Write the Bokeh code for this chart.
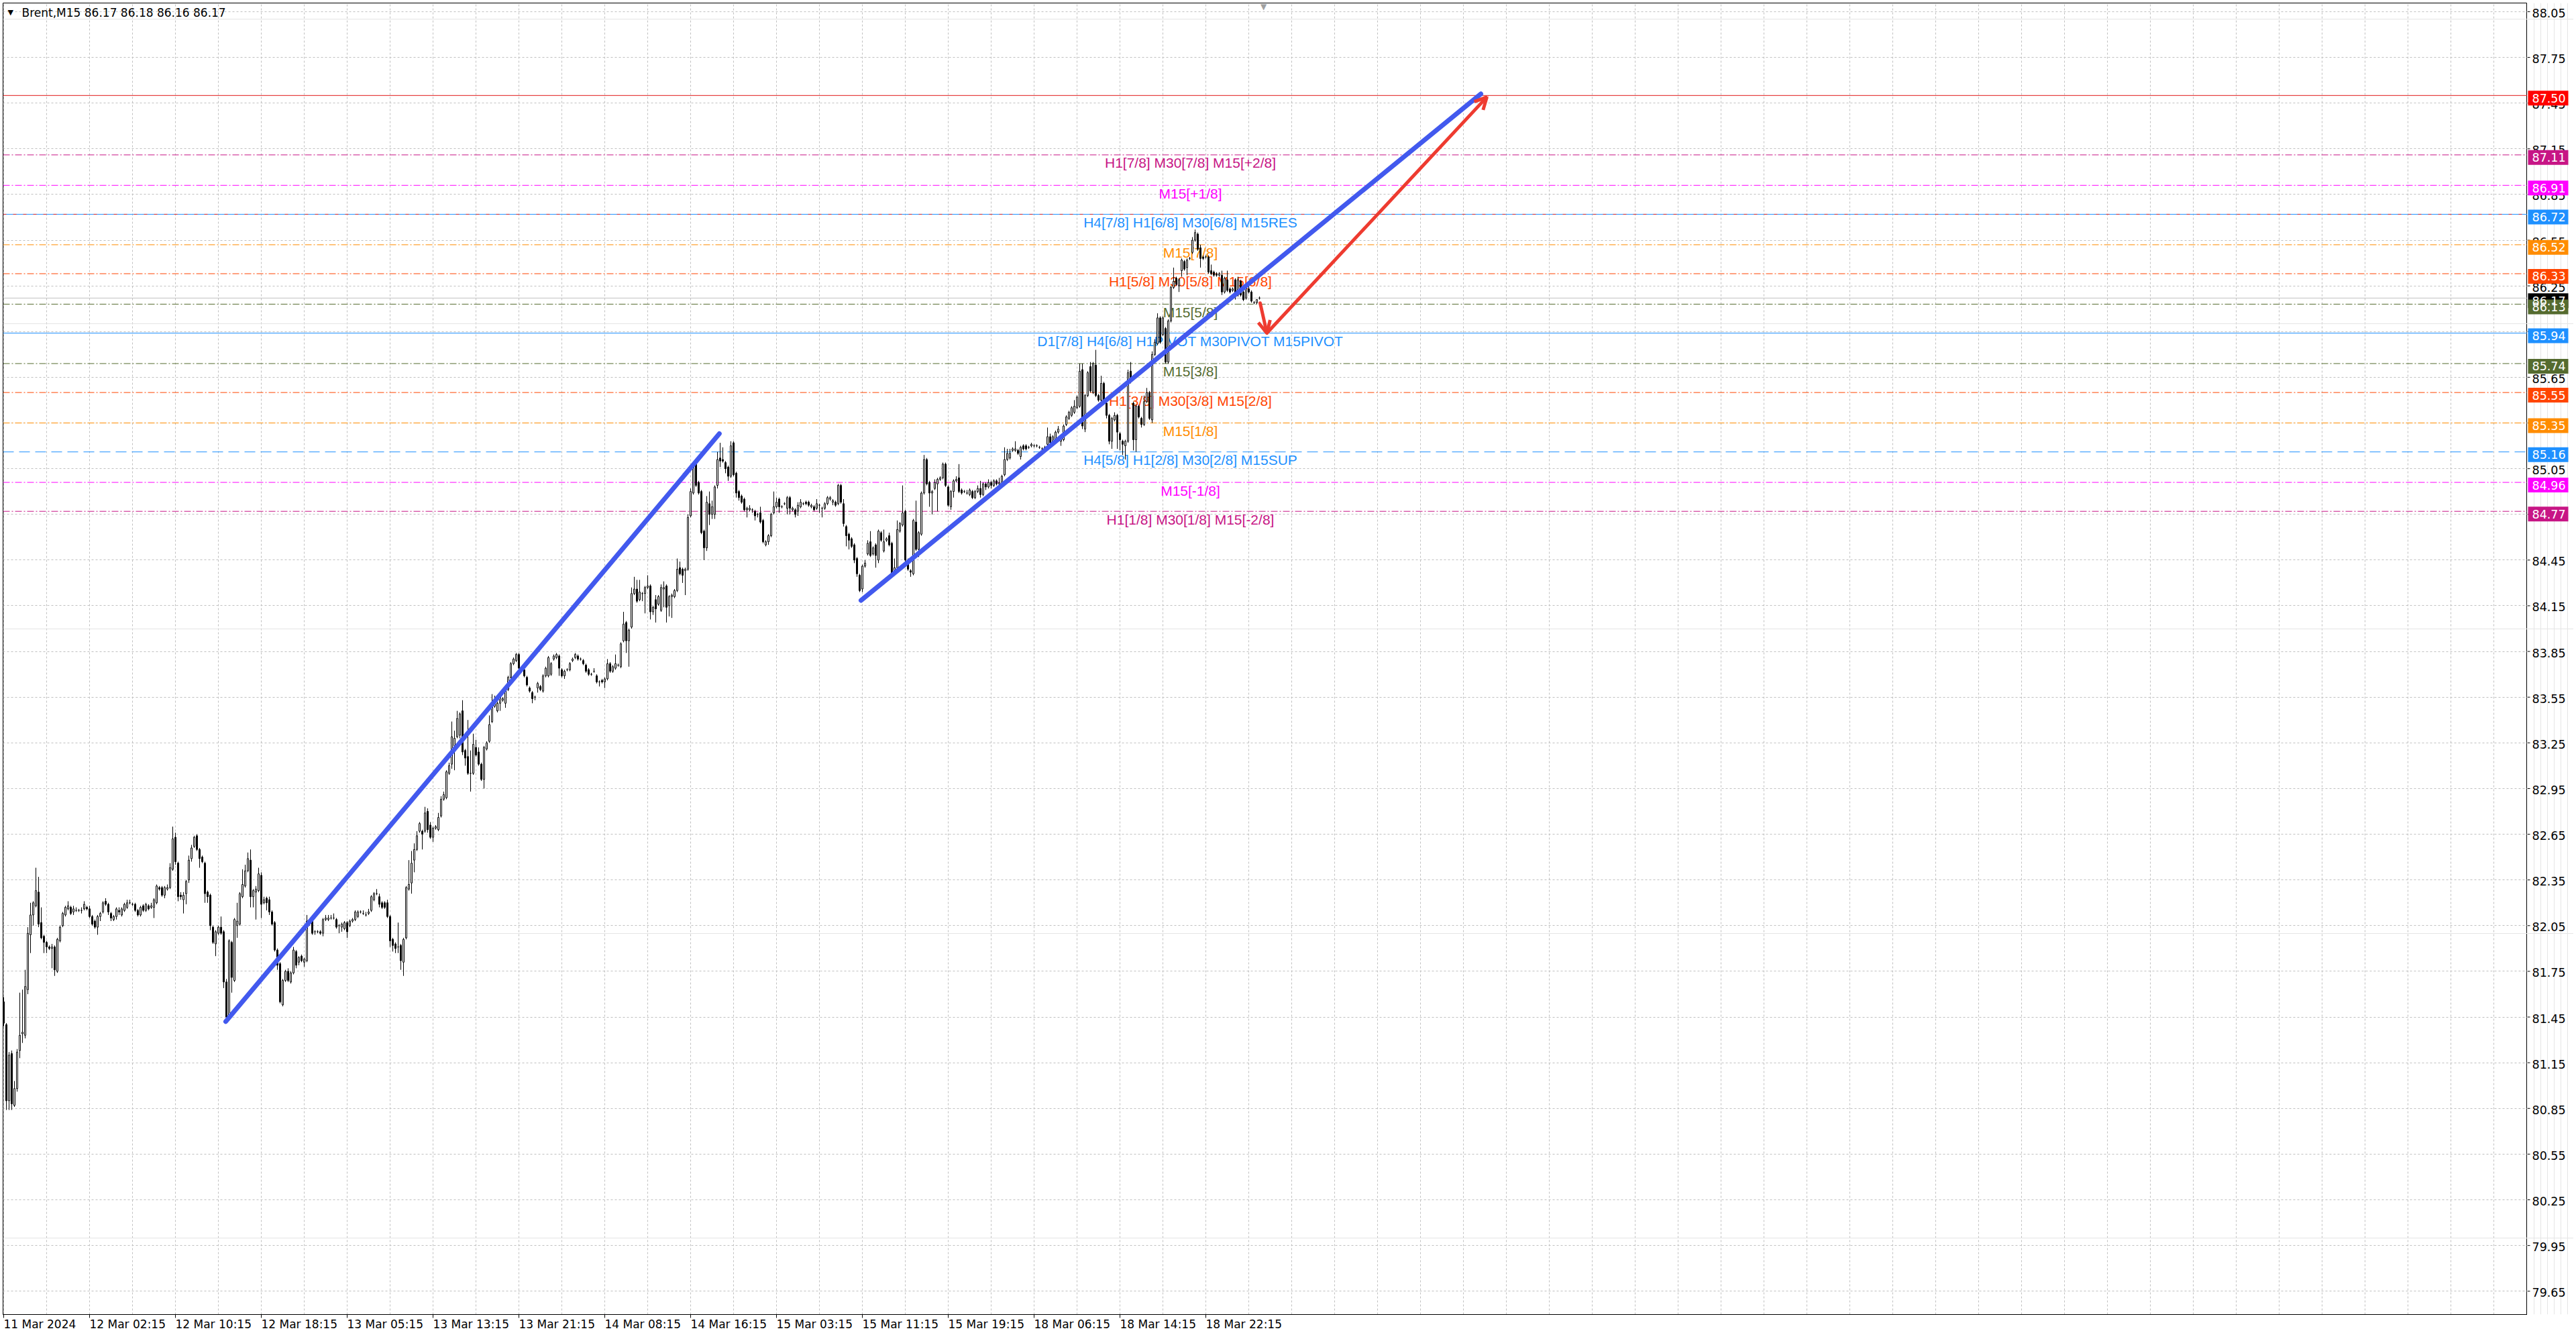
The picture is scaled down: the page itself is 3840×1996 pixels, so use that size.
from bokeh.plotting import figure
from bokeh.layouts import row
from bokeh.models import (Range1d, FixedTicker, Label, Arrow, OpenHead, Grid,
                          Span, ColumnDataSource)
from bokeh.core.properties import value
from bokeh.embed import file_html
from bokeh.resources import INLINE

# ---------------- data (Brent, M15) ----------------
opens = [
81.55,81.40,80.90,81.21,80.87,80.98,81.23,81.34,81.33,81.63,
81.99,82.12,82.18,82.27,82.07,81.98,81.94,81.91,81.90,81.91,
81.75,81.95,82.05,82.12,82.16,82.17,82.14,82.15,82.15,82.15,
82.16,82.17,82.16,82.11,82.08,82.04,82.11,82.14,82.21,82.19,
82.13,82.09,82.11,82.15,82.12,82.15,82.17,82.20,82.19,82.19,
82.15,82.12,82.18,82.15,82.18,82.17,82.17,82.20,82.30,82.30,
82.25,82.29,82.30,82.42,82.63,82.46,82.25,82.22,82.26,82.35,
82.49,82.57,82.64,82.55,82.50,82.46,82.27,82.25,82.04,81.93,
82.00,82.04,82.01,81.68,81.46,81.94,81.69,82.05,82.06,82.24,
82.31,82.41,82.48,82.24,82.27,82.28,82.38,82.20,82.23,82.22,
82.14,82.07,81.89,81.80,81.53,81.69,81.75,81.68,81.74,81.88,
81.81,81.85,81.81,81.82,82.06,82.08,82.01,82.01,82.01,82.00,
82.09,82.09,82.10,82.10,82.09,82.05,82.04,82.03,82.07,82.05,
82.08,82.09,82.11,82.14,82.13,82.12,82.13,82.15,82.22,82.26,
82.24,82.20,82.20,82.20,82.11,81.96,81.93,81.91,81.92,81.81,
81.97,82.29,82.33,82.48,82.55,82.67,82.67,82.67,82.80,82.71,
82.63,82.69,82.68,82.77,82.88,82.89,83.05,83.11,83.23,83.29,
83.30,83.46,83.20,83.16,83.05,83.05,83.22,83.19,83.11,83.01,
83.21,83.26,83.39,83.49,83.46,83.51,83.53,83.51,83.60,83.68,
83.77,83.79,83.83,83.74,83.73,83.68,83.61,83.58,83.55,83.61,
83.62,83.59,83.69,83.69,83.70,83.80,83.81,83.82,83.73,83.69,
83.73,83.73,83.79,83.81,83.82,83.80,83.79,83.76,83.73,83.70,
83.72,83.69,83.65,83.66,83.65,83.67,83.77,83.72,83.74,83.76,
83.75,83.92,84.04,83.92,84.01,84.23,84.26,84.19,84.23,84.23,
84.27,84.28,84.11,84.19,84.16,84.12,84.26,84.28,84.15,84.21,
84.21,84.25,84.40,84.39,84.38,84.39,84.74,84.89,85.08,84.96,
84.90,84.64,84.53,84.82,84.75,84.75,84.94,85.12,85.11,85.09,
85.06,85.00,85.22,85.02,84.90,84.87,84.85,84.78,84.78,84.78,
84.77,84.75,84.76,84.71,84.55,84.57,84.61,84.76,84.80,84.85,
84.80,84.82,84.79,84.86,84.78,84.78,84.77,84.80,84.82,84.83,
84.83,84.80,84.80,84.79,84.81,84.79,84.79,84.82,84.85,84.83,
84.83,84.82,84.94,84.82,84.67,84.62,84.59,84.55,84.46,84.35,
84.26,84.41,84.49,84.57,84.49,84.55,84.45,84.63,84.51,84.58,
84.61,84.56,84.37,84.40,84.64,84.68,84.77,84.45,84.38,84.36,
84.70,84.52,84.62,84.89,85.11,84.96,84.89,84.92,84.95,84.98,
84.99,85.08,84.93,84.80,84.90,84.97,84.99,84.91,84.90,84.89,
84.88,84.90,84.86,84.90,84.92,84.88,84.95,84.93,84.96,84.94,
84.97,84.95,84.96,85.01,85.11,85.12,85.17,85.17,85.17,85.13,
85.20,85.20,85.19,85.20,85.20,85.20,85.19,85.18,85.18,85.21,
85.26,85.23,85.24,85.29,85.23,85.24,85.34,85.38,85.40,85.42,
85.45,85.46,85.70,85.31,85.53,85.72,85.55,85.73,85.53,85.50,
85.61,85.48,85.40,85.23,85.37,85.40,85.28,85.23,85.20,85.23,
85.69,85.48,85.24,85.46,85.38,85.34,85.49,85.55,85.37,85.80,
85.87,86.04,85.93,85.97,85.75,86.02,86.24,86.30,86.25,86.35,
86.41,86.37,86.43,86.47,86.55,86.59,86.50,86.44,86.44,86.44,
86.35,86.34,86.33,86.32,86.32,86.21,86.29,86.23,86.22,86.29,
86.19,86.28,86.21,86.17,86.23,86.21,86.14,86.14,86.17]

highs = [
81.58,81.41,81.22,81.23,81.03,81.24,81.61,81.63,81.76,82.04,
82.20,82.21,82.43,82.37,82.17,81.99,81.95,81.92,81.93,81.92,
81.97,82.05,82.14,82.18,82.21,82.18,82.18,82.17,82.16,82.17,
82.21,82.18,82.18,82.12,82.09,82.12,82.14,82.21,82.23,82.20,
82.14,82.12,82.17,82.17,82.17,82.20,82.22,82.22,82.20,82.20,
82.16,82.18,82.19,82.20,82.19,82.20,82.23,82.32,82.31,82.31,
82.31,82.32,82.46,82.70,82.66,82.47,82.27,82.27,82.35,82.51,
82.58,82.64,82.65,82.56,82.51,82.47,82.28,82.26,82.05,82.02,
82.05,82.11,82.02,81.70,81.96,81.95,82.10,82.20,82.27,82.42,
82.45,82.53,82.55,82.29,82.31,82.43,82.40,82.24,82.24,82.24,
82.15,82.08,81.90,81.81,81.70,81.76,81.77,81.75,81.91,81.89,
81.85,81.86,81.84,82.12,82.09,82.09,82.02,82.02,82.02,82.10,
82.12,82.12,82.12,82.13,82.10,82.06,82.07,82.08,82.08,82.09,
82.10,82.15,82.15,82.15,82.15,82.14,82.16,82.25,82.27,82.29,
82.26,82.21,82.21,82.22,82.12,81.97,81.94,82.07,81.93,81.97,
82.31,82.48,82.54,82.59,82.67,82.73,82.68,82.83,82.82,82.73,
82.70,82.71,82.79,82.90,82.93,83.07,83.12,83.39,83.33,83.46,
83.45,83.53,83.21,83.40,83.20,83.31,83.27,83.22,83.12,83.23,
83.26,83.43,83.57,83.56,83.52,83.56,83.55,83.62,83.69,83.78,
83.81,83.84,83.84,83.75,83.74,83.69,83.62,83.59,83.56,83.65,
83.63,83.70,83.75,83.82,83.78,83.83,83.84,83.83,83.74,83.73,
83.74,83.78,83.81,83.84,83.83,83.81,83.80,83.77,83.74,83.71,
83.74,83.70,83.66,83.67,83.68,83.80,83.78,83.76,83.83,83.77,
83.91,84.11,84.05,84.00,84.27,84.34,84.32,84.32,84.24,84.28,
84.35,84.29,84.15,84.22,84.22,84.29,84.31,84.29,84.22,84.23,
84.26,84.46,84.44,84.40,84.40,84.75,84.92,85.08,85.11,84.97,
84.91,84.65,84.87,84.90,84.84,84.94,85.16,85.22,85.19,85.10,
85.07,85.23,85.23,85.03,84.91,84.88,84.86,84.80,84.81,84.79,
84.78,84.76,84.80,84.72,84.58,84.62,84.76,84.90,84.86,84.86,
84.81,84.83,84.87,84.87,84.80,84.79,84.83,84.85,84.83,84.84,
84.84,84.82,84.81,84.85,84.82,84.80,84.83,84.87,84.87,84.85,
84.84,84.95,84.95,84.85,84.68,84.63,84.60,84.56,84.47,84.36,
84.42,84.45,84.58,84.64,84.54,84.56,84.65,84.64,84.65,84.60,
84.63,84.57,84.46,84.71,84.70,84.94,84.78,84.46,84.39,84.72,
84.84,84.64,84.90,85.14,85.12,84.97,84.91,84.98,84.99,85.00,
85.09,85.09,84.94,84.91,84.98,85.00,85.08,84.92,84.91,84.91,
84.92,84.91,84.91,84.94,84.97,84.96,84.96,84.98,84.97,84.98,
84.98,84.99,85.01,85.19,85.18,85.18,85.19,85.23,85.18,85.20,
85.21,85.21,85.20,85.22,85.21,85.21,85.20,85.19,85.20,85.32,
85.28,85.27,85.30,85.33,85.27,85.34,85.40,85.43,85.46,85.50,
85.53,85.74,85.74,85.54,85.69,85.75,85.75,85.83,85.54,85.66,
85.62,85.49,85.41,85.39,85.42,85.41,85.29,85.24,85.24,85.70,
85.75,85.49,85.47,85.47,85.39,85.53,85.58,85.56,85.82,85.90,
86.07,86.05,86.05,85.98,86.03,86.25,86.37,86.31,86.30,86.43,
86.42,86.43,86.44,86.57,86.62,86.60,86.52,86.45,86.45,86.45,
86.39,86.35,86.34,86.34,86.35,86.31,86.35,86.24,86.24,86.30,
86.31,86.29,86.22,86.26,86.27,86.22,86.15,86.16,86.18]

lows = [
81.39,80.84,80.84,80.84,80.86,80.96,81.18,81.28,81.31,81.60,
81.87,82.05,82.17,82.04,81.96,81.87,81.87,81.89,81.77,81.72,
81.74,81.94,82.04,82.11,82.15,82.12,82.12,82.14,82.14,82.13,
82.15,82.15,82.10,82.05,82.03,81.99,82.08,82.13,82.18,82.12,
82.08,82.08,82.09,82.12,82.11,82.14,82.16,82.19,82.18,82.14,
82.11,82.11,82.14,82.14,82.15,82.16,82.10,82.19,82.28,82.24,
82.23,82.28,82.29,82.41,82.45,82.21,82.22,82.13,82.19,82.33,
82.47,82.56,82.54,82.43,82.46,82.20,82.20,82.02,81.93,81.85,
81.99,81.99,81.64,81.42,81.43,81.61,81.68,81.97,82.05,82.23,
82.30,82.40,82.17,82.17,82.09,82.27,82.10,82.19,82.15,82.12,
82.05,81.88,81.76,81.54,81.52,81.68,81.68,81.67,81.73,81.77,
81.79,81.81,81.78,81.81,82.05,81.99,81.99,82.00,81.99,81.98,
82.08,82.08,82.09,82.09,82.03,82.00,82.01,82.02,81.97,82.04,
82.07,82.08,82.10,82.13,82.12,82.11,82.12,82.14,82.21,82.25,
82.17,82.16,82.16,82.10,81.91,81.88,81.87,81.87,81.76,81.72,
81.96,82.28,82.26,82.40,82.54,82.66,82.55,82.66,82.66,82.62,
82.60,82.68,82.67,82.76,82.87,82.88,83.04,83.08,83.07,83.28,
83.28,83.17,83.10,83.04,82.93,83.04,83.16,83.10,83.00,82.95,
83.20,83.25,83.38,83.48,83.45,83.46,83.52,83.48,83.59,83.67,
83.76,83.78,83.73,83.72,83.68,83.62,83.58,83.51,83.53,83.58,
83.59,83.58,83.68,83.68,83.69,83.79,83.80,83.69,83.68,83.67,
83.72,83.72,83.78,83.80,83.79,83.79,83.76,83.71,83.69,83.69,
83.71,83.64,83.62,83.64,83.61,83.66,83.71,83.71,83.73,83.75,
83.74,83.91,83.84,83.75,84.00,84.22,84.17,84.18,84.18,84.10,
84.26,84.06,84.09,84.04,84.15,84.11,84.14,84.04,84.08,84.07,
84.20,84.24,84.35,84.30,84.22,84.38,84.73,84.88,84.93,84.88,
84.62,84.45,84.51,84.68,84.72,84.72,84.92,85.06,85.09,85.02,
84.97,84.99,85.00,84.86,84.84,84.82,84.77,84.73,84.77,84.76,
84.71,84.73,84.69,84.56,84.54,84.55,84.60,84.75,84.79,84.76,
84.79,84.81,84.75,84.75,84.77,84.73,84.74,84.79,84.81,84.81,
84.80,84.79,84.77,84.78,84.76,84.73,84.78,84.81,84.84,84.81,
84.80,84.81,84.82,84.67,84.54,84.52,84.53,84.43,84.34,84.24,
84.24,84.40,84.48,84.47,84.48,84.40,84.43,84.57,84.50,84.57,
84.54,84.35,84.36,84.38,84.63,84.67,84.41,84.38,84.34,84.35,
84.51,84.47,84.61,84.88,84.94,84.80,84.75,84.91,84.77,84.97,
84.98,84.93,84.80,84.78,84.86,84.96,84.89,84.88,84.89,84.88,
84.87,84.85,84.85,84.89,84.86,84.87,84.91,84.92,84.92,84.93,
84.94,84.94,84.95,85.00,85.10,85.11,85.16,85.16,85.14,85.11,
85.17,85.17,85.18,85.19,85.19,85.19,85.18,85.17,85.17,85.20,
85.21,85.22,85.23,85.28,85.20,85.23,85.33,85.37,85.39,85.41,
85.44,85.45,85.31,85.29,85.52,85.55,85.54,85.52,85.49,85.49,
85.49,85.38,85.21,85.18,85.36,85.18,85.17,85.14,85.11,85.22,
85.61,85.17,85.16,85.38,85.32,85.33,85.48,85.37,85.35,85.79,
85.86,85.87,85.92,85.74,85.74,86.01,86.23,86.25,86.21,86.31,
86.35,86.32,86.42,86.46,86.54,86.48,86.37,86.42,86.43,86.33,
86.32,86.31,86.31,86.31,86.19,86.20,86.21,86.20,86.21,86.16,
86.18,86.18,86.15,86.16,86.20,86.14,86.13,86.13,86.16]

closes = [
81.41,80.90,81.20,80.88,80.98,81.22,81.33,81.35,81.65,82.00,
82.12,82.20,82.28,82.06,81.97,81.94,81.91,81.90,81.91,81.76,
81.96,82.04,82.13,82.17,82.18,82.13,82.16,82.15,82.15,82.15,
82.19,82.16,82.11,82.06,82.04,82.11,82.13,82.20,82.19,82.14,
82.10,82.11,82.16,82.14,82.16,82.19,82.20,82.20,82.19,82.15,
82.12,82.17,82.15,82.19,82.16,82.18,82.22,82.31,82.29,82.25,
82.30,82.30,82.43,82.62,82.47,82.24,82.24,82.25,82.34,82.48,
82.56,82.63,82.55,82.49,82.47,82.26,82.24,82.05,81.94,82.01,
82.04,82.00,81.68,81.45,81.95,81.71,82.09,82.08,82.26,82.32,
82.41,82.49,82.24,82.28,82.29,82.39,82.19,82.22,82.20,82.14,
82.06,81.89,81.79,81.55,81.69,81.75,81.69,81.74,81.89,81.79,
81.84,81.82,81.83,82.08,82.08,82.00,82.01,82.01,82.00,82.09,
82.10,82.10,82.10,82.10,82.04,82.05,82.06,82.07,82.01,82.08,
82.09,82.14,82.14,82.14,82.13,82.12,82.14,82.24,82.26,82.26,
82.19,82.17,82.17,82.11,81.95,81.92,81.90,81.91,81.82,81.96,
82.30,82.32,82.46,82.55,82.64,82.72,82.65,82.79,82.68,82.63,
82.69,82.70,82.76,82.88,82.91,83.06,83.10,83.29,83.28,83.41,
83.44,83.19,83.15,83.05,83.05,83.24,83.17,83.11,83.01,83.22,
83.25,83.37,83.51,83.53,83.51,83.55,83.54,83.61,83.68,83.77,
83.80,83.83,83.74,83.73,83.69,83.63,83.59,83.54,83.55,83.64,
83.60,83.69,83.74,83.81,83.77,83.82,83.83,83.74,83.69,83.72,
83.73,83.77,83.80,83.83,83.80,83.80,83.77,83.72,83.70,83.70,
83.72,83.65,83.65,83.65,83.67,83.77,83.72,83.75,83.77,83.76,
83.90,84.03,83.92,83.99,84.23,84.26,84.18,84.24,84.23,84.27,
84.28,84.11,84.14,84.13,84.21,84.27,84.27,84.14,84.21,84.22,
84.25,84.39,84.36,84.35,84.39,84.73,84.90,85.06,84.94,84.89,
84.63,84.53,84.83,84.75,84.80,84.93,85.11,85.10,85.10,85.05,
85.00,85.20,85.01,84.89,84.86,84.83,84.78,84.79,84.79,84.78,
84.74,84.75,84.70,84.57,84.57,84.61,84.75,84.80,84.83,84.80,
84.80,84.82,84.86,84.79,84.79,84.75,84.81,84.83,84.82,84.82,
84.81,84.81,84.78,84.82,84.81,84.79,84.82,84.86,84.86,84.84,
84.81,84.94,84.83,84.69,84.61,84.58,84.54,84.45,84.36,84.25,
84.41,84.43,84.56,84.48,84.53,84.48,84.64,84.58,84.57,84.59,
84.55,84.36,84.40,84.65,84.69,84.76,84.45,84.39,84.37,84.71,
84.52,84.63,84.89,85.11,84.95,84.89,84.90,84.96,84.98,84.99,
85.08,84.94,84.81,84.90,84.97,84.98,84.90,84.89,84.90,84.89,
84.91,84.86,84.90,84.92,84.88,84.95,84.93,84.96,84.94,84.97,
84.95,84.96,85.00,85.11,85.15,85.15,85.18,85.18,85.15,85.19,
85.18,85.18,85.19,85.21,85.20,85.20,85.19,85.18,85.19,85.26,
85.22,85.26,85.29,85.31,85.26,85.33,85.39,85.42,85.45,85.46,
85.52,85.69,85.33,85.53,85.68,85.56,85.74,85.53,85.50,85.61,
85.50,85.40,85.23,85.38,85.40,85.29,85.24,85.21,85.23,85.68,
85.62,85.24,85.46,85.39,85.34,85.49,85.55,85.38,85.80,85.88,
86.04,85.88,86.04,85.75,86.02,86.24,86.28,86.26,86.29,86.42,
86.36,86.42,86.43,86.55,86.60,86.49,86.43,86.43,86.44,86.34,
86.33,86.32,86.32,86.33,86.21,86.30,86.22,86.21,86.23,86.18,
86.29,86.19,86.16,86.25,86.21,86.15,86.14,86.16,86.17]

time_tick_bars = [0, 32, 64, 96, 128, 160, 192, 224, 256, 288, 320, 352, 384, 416, 448]
time_tick_labels = ["11 Mar 2024", "12 Mar 02:15", "12 Mar 10:15", "12 Mar 18:15",
                    "13 Mar 05:15", "13 Mar 13:15", "13 Mar 21:15", "14 Mar 08:15",
                    "14 Mar 16:15", "15 Mar 03:15", "15 Mar 11:15", "15 Mar 19:15",
                    "18 Mar 06:15", "18 Mar 14:15", "18 Mar 22:15"]
price_ticks = [79.65, 79.95, 80.25, 80.55, 80.85, 81.15, 81.45, 81.75, 82.05, 82.35,
               82.65, 82.95, 83.25, 83.55, 83.85, 84.15, 84.45, 84.75, 85.05, 85.35,
               85.65, 85.95, 86.25, 86.55, 86.85, 87.15, 87.45, 87.75, 88.05]

level_prices = [87.11, 86.91, 86.72, 86.52, 86.33, 86.13, 85.94, 85.74, 85.55, 85.35, 85.16, 84.96, 84.77]
level_texts = ["H1[7/8] M30[7/8] M15[+2/8]", "M15[+1/8]", "H4[7/8] H1[6/8] M30[6/8] M15RES",
               "M15[7/8]", "H1[5/8] M30[5/8] M15[6/8]", "M15[5/8]",
               "D1[7/8] H4[6/8] H1PIVOT M30PIVOT M15PIVOT", "M15[3/8]",
               "H1[3/8] M30[3/8] M15[2/8]", "M15[1/8]", "H4[5/8] H1[2/8] M30[2/8] M15SUP",
               "M15[-1/8]", "H1[1/8] M30[1/8] M15[-2/8]"]
level_colors = ["#C71585", "#FF00FF", "#1E90FF", "#FF8C00", "#FF4500", "#556B2F",
                "#1E90FF", "#556B2F", "#FF4500", "#FF8C00", "#1E90FF", "#FF00FF", "#C71585"]
level_dashes = ["10 3 2 3", "10 3 2 3", "solid", "10 3 2 3", "10 3 2 3", "10 3 2 3",
                "solid", "10 3 2 3", "10 3 2 3", "10 3 2 3", "16 8", "10 3 2 3", "10 3 2 3"]
target_price = 87.50
current_price = 86.17
header_text = "Brent,M15  86.17 86.18 86.16 86.17"

trend1_x = [82.75, 266.7]
trend1_y = [81.42, 85.28]
trend2_x = [319.5, 550.5]
trend2_y = [84.185, 87.51]
arrow_x = [468.25, 470.75, 552.75]
arrow_y = [86.137, 85.94, 87.49]
label_bar = 442.25
shift_bar = 469.5

# ---------------- layout constants ----------------
W_MAIN, W_SCALE, H = 3767, 69, 1996
TOP, BOTTOM = 4, 34
X0, X1 = -0.25, 940.5
Y0, Y1 = 79.497, 88.107
px_per_price = (H - TOP - BOTTOM) / (Y1 - Y0)
SCALE_FONT = "17.5px"

# ---------------- main chart ----------------
p = figure(width=W_MAIN, height=H, x_range=Range1d(X0, X1), y_range=Range1d(Y0, Y1),
           y_axis_location=None, output_backend="svg", toolbar_location=None, tools="",
           min_border_left=4, min_border_top=TOP, min_border_right=0, min_border_bottom=BOTTOM)
p.background_fill_color = "white"
p.border_fill_color = "white"
p.outline_line_color = "black"
p.outline_line_width = 1

bx = p.xaxis[0]
bx.ticker = FixedTicker(ticks=time_tick_bars)
bx.major_label_overrides = {b: l for b, l in zip(time_tick_bars, time_tick_labels)}
bx.major_label_text_font = "DejaVu Sans"
bx.major_label_text_font_size = "17px"
bx.major_label_text_color = "black"
bx.major_label_orientation = -0.0001
bx.major_tick_out = 5
bx.major_tick_in = 0
bx.minor_tick_out = 0
bx.minor_tick_in = 0
bx.major_label_standoff = 9
bx.axis_line_color = "black"

p.xgrid.ticker = FixedTicker(ticks=list(range(0, 941, 16)))
p.xgrid.grid_line_color = "#C0C0C0"
p.xgrid.grid_line_dash = "3 3"
p.add_layout(Grid(dimension=1, ticker=FixedTicker(ticks=price_ticks),
                  grid_line_color="#C0C0C0", grid_line_dash="3 3"))

# level lines
p.add_layout(Span(location=target_price, dimension="width", line_color="#E01818",
                  line_width=1, level="underlay"))
for pr, col, dash in zip(level_prices, level_colors, level_dashes):
    p.add_layout(Span(location=pr, dimension="width", line_color=col, line_width=1,
                      line_dash=dash, level="underlay"))
p.add_layout(Span(location=level_prices[2], dimension="width", line_color="#E03030",
                  line_width=1, line_dash="5 10", level="underlay"))
p.add_layout(Span(location=current_price, dimension="width", line_color="#C0C0C0",
                  line_width=1, level="underlay"))

lsrc = ColumnDataSource(dict(x=[label_bar] * len(level_prices), y=level_prices,
                             t=level_texts, c=level_colors))
p.text(x="x", y="y", text="t", text_color="c", source=lsrc,
       text_font=value("Liberation Sans"), text_font_size=value("21px"),
       text_align="center", text_baseline="alphabetic", y_offset=12)

# candles
n = min(len(opens), len(highs), len(lows), len(closes))
idx = list(range(n))
o, h, l, c = opens[:n], highs[:n], lows[:n], closes[:n]
h = [max(a, b, d) for a, b, d in zip(h, o, c)]
l = [min(a, b, d) for a, b, d in zip(l, o, c)]
src = ColumnDataSource(dict(
    x=idx, h=h, l=l,
    top=[max(a, b) for a, b in zip(o, c)],
    bottom=[min(a, b) for a, b in zip(o, c)],
    fill=["white" if b >= a else "black" for a, b in zip(o, c)]))
p.segment(x0="x", y0="l", x1="x", y1="h", source=src, line_color="black", line_width=1)
p.vbar(x="x", width=0.5, top="top", bottom="bottom", fill_color="fill",
       line_color="black", line_width=1, source=src)

# drawings
blue = "#4259EE"
red = "#EE3B30"
p.line(trend1_x, trend1_y, line_color=blue, line_width=7, line_cap="round")
p.line(trend2_x, trend2_y, line_color=blue, line_width=7, line_cap="round")
for i in range(len(arrow_x) - 1):
    p.add_layout(Arrow(end=OpenHead(size=18, line_color=red, line_width=5),
                       x_start=arrow_x[i], y_start=arrow_y[i],
                       x_end=arrow_x[i + 1], y_end=arrow_y[i + 1],
                       line_color=red, line_width=5, line_cap="round"))

# header
p.add_layout(Label(x=X0, y=Y1, x_offset=7, y_offset=-14, text="\u25BC",
                   text_font="DejaVu Sans", text_font_size="11px", text_color="black",
                   text_baseline="middle"))
p.add_layout(Label(x=X0, y=Y1, x_offset=28, y_offset=-14, text=header_text,
                   text_font="DejaVu Sans", text_font_size="17px", text_color="black",
                   text_baseline="middle"))
p.add_layout(Label(x=shift_bar, y=Y1, y_offset=2, text="\u25BC",
                   text_font="DejaVu Sans", text_font_size="12px", text_color="#A0A0A0",
                   text_baseline="top", text_align="center"))

# ---------------- price scale (shares the price range) ----------------
s = figure(width=W_SCALE, height=H, x_range=Range1d(0, W_SCALE), y_range=p.y_range,
           x_axis_location=None, y_axis_location=None, output_backend="svg",
           toolbar_location=None, tools="",
           min_border_left=0, min_border_right=0, min_border_top=TOP, min_border_bottom=BOTTOM)
s.background_fill_color = "white"
s.border_fill_color = "white"
s.outline_line_color = None

s.segment(x0=0, x1=4, y0=price_ticks, y1=price_ticks, line_color="black", line_width=1)
s.text(x=7, y=price_ticks, text=["%.2f" % t for t in price_ticks],
       text_font=value("DejaVu Sans"), text_font_size=value(SCALE_FONT), text_color="black",
       text_baseline="middle", text_align="left", y_offset=2)

box_prices = [target_price] + level_prices[:5] + [current_price] + level_prices[5:]
box_colors = ["#FF0000"] + level_colors[:5] + ["#000000"] + level_colors[5:]
shift = 4 / px_per_price
bsrc = ColumnDataSource(dict(y=[b - shift for b in box_prices], yt=box_prices, c=box_colors,
                             t=["%.2f" % b for b in box_prices]))
s.rect(x=31, y="y", width=60, height=22, height_units="screen", fill_color="c",
       line_color=None, source=bsrc)
s.text(x=7, y="yt", text="t", source=bsrc, text_font=value("DejaVu Sans"),
       text_font_size=value(SCALE_FONT), text_color="white", text_baseline="middle",
       text_align="left", y_offset=4)

layout = row(p, s)
open("out.html", "w").write(file_html(layout, INLINE))
